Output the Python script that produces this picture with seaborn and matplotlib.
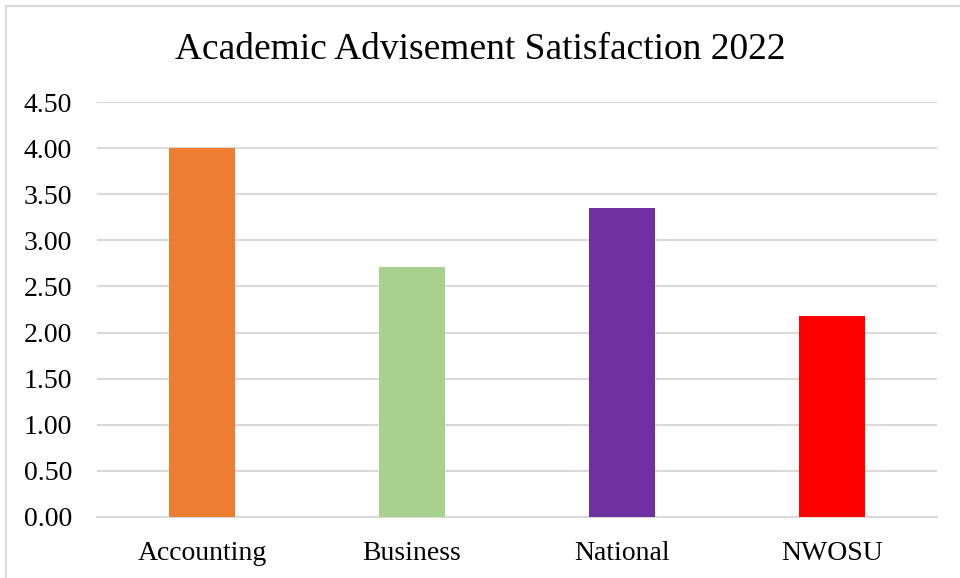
import matplotlib
matplotlib.use("Agg")
import matplotlib.pyplot as plt
import seaborn as sns
import pandas as pd
from matplotlib.patches import Rectangle

categories = ["Accounting", "Business", "National", "NWOSU"]
values = [4.00, 2.71, 3.35, 2.18]
colors = ["#ED7D31", "#A9D18E", "#7030A0", "#FF0000"]
yticks = [0.0, 0.5, 1.0, 1.5, 2.0, 2.5, 3.0, 3.5, 4.0, 4.5]

sns.set_theme(style="white")
plt.rcParams['font.family'] = ['Liberation Serif', 'DejaVu Serif']

fig = plt.figure(figsize=(9.6, 5.78), dpi=100)
ax = fig.add_axes([97/960, 1 - 517/578, 840/960, (517 - 102)/578])

df = pd.DataFrame({"cat": categories, "val": values})
sns.barplot(data=df, x="cat", y="val", hue="cat", palette=colors, legend=False,
            width=0.314, ax=ax, saturation=1, zorder=3, linewidth=0)

ax.set_ylim(0, 4.5)
ax.set_xlim(-0.5, 3.5)
ax.set_yticks(yticks)
ax.set_yticklabels([f"{v:.2f}" for v in yticks], fontsize=20, color="black")
ax.set_xticklabels(categories, fontsize=20, color="black")
ax.tick_params(axis='both', length=0)
ax.tick_params(axis='y', pad=18)
ax.tick_params(axis='x', pad=17)
ax.set_xlabel("")
ax.set_ylabel("")
ax.yaxis.grid(True, color="#d9d9d9", linewidth=1.5, zorder=0)
ax.set_axisbelow(True)
for s in ["top", "right", "left"]:
    ax.spines[s].set_visible(False)
ax.spines["bottom"].set_color("#d9d9d9")
ax.spines["bottom"].set_linewidth(1.5)

fig.text(0.5, 1 - 50/578, "Academic Advisement Satisfaction 2022",
         ha="center", va="center", fontsize=27, color="black")

fig.patches.append(Rectangle((6/960, -0.1), 1.2, 1 - 6/578 + 0.1, transform=fig.transFigure,
                             fill=False, edgecolor="#d9d9d9", linewidth=1.5))

fig.savefig("out.png", dpi=100)
